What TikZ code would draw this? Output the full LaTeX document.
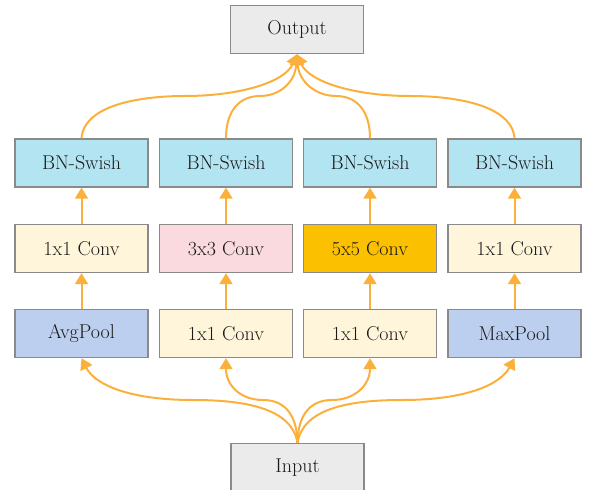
\documentclass[tikz,border=0pt]{standalone}
\usepackage{fontspec}
\usetikzlibrary{arrows.meta}
\definecolor{boxgray}{HTML}{EBEBEB}
\definecolor{edgegray}{HTML}{8A8A8A}
\definecolor{bnblue}{HTML}{B3E4F2}
\definecolor{cream}{HTML}{FFF5DA}
\definecolor{pinkc}{HTML}{FBDADF}
\definecolor{gold}{HTML}{FBC000}
\definecolor{poolblue}{HTML}{BCCFEE}
\definecolor{flow}{HTML}{FBB03B}
\definecolor{txt}{HTML}{1A1A1A}
\begin{document}
\begin{tikzpicture}[x=1pt,y=-1pt,
  blk/.style={draw=edgegray, line width=1.4pt, minimum width=133pt, minimum height=48pt, inner sep=0pt, text=txt, font=\fontsize{20}{23}\selectfont},
  arr/.style={draw=flow, line width=2pt, -{Triangle[width=13pt,length=11pt]}}]
\useasboundingbox (0,0) rectangle (590,490);
\clip (0,0) rectangle (590,490);
\node[blk, fill=boxgray] (out) at (297,29.5) {Output};
\node[blk, fill=boxgray] (in) at (297.5,467.5) {Input};
\node[blk, fill=bnblue] (b1) at (81.5,163) {BN-Swish};
\node[blk, fill=bnblue] (b2) at (226,163) {BN-Swish};
\node[blk, fill=bnblue] (b3) at (370,163) {BN-Swish};
\node[blk, fill=bnblue] (b4) at (514.5,163) {BN-Swish};
\node[blk, fill=cream] (m1) at (81.5,248.5) {1x1 Conv};
\node[blk, fill=pinkc] (m2) at (226,248.5) {3x3 Conv};
\node[blk, fill=gold] (m3) at (370,248.5) {5x5 Conv};
\node[blk, fill=cream] (m4) at (514.5,248.5) {1x1 Conv};
\node[blk, fill=poolblue] (p1) at (81.5,333.5) {AvgPool};
\node[blk, fill=cream] (p2) at (226,333.5) {1x1 Conv};
\node[blk, fill=cream] (p3) at (370,333.5) {1x1 Conv};
\node[blk, fill=poolblue] (p4) at (514.5,333.5) {MaxPool};
\foreach \c in {1,2,3,4}{
  \draw[arr] (p\c.north) -- (m\c.south);
  \draw[arr] (m\c.north) -- (b\c.south);
}
% bottom fan-out
\draw[arr] (in.north) .. controls (292,410) and (250,400) .. (193,400) .. controls (130,400) and (95,385) .. (p1.south);
\draw[arr] (in.north) .. controls (297,415) and (285,400) .. (263,400) .. controls (240,400) and (226,385) .. (p2.south);
\draw[arr] (in.north) .. controls (298,415) and (310,400) .. (332,400) .. controls (355,400) and (370,385) .. (p3.south);
\draw[arr] (in.north) .. controls (303,410) and (345,400) .. (402,400) .. controls (465,400) and (500,385) .. (p4.south);
% top fan-in
\draw[arr] (b1.north) .. controls (84,105) and (140,96) .. (185,96) .. controls (240,96) and (285,82) .. (out.south);
\draw[arr] (b2.north) .. controls (226,110) and (240,96) .. (260,96) .. controls (280,96) and (295,82) .. (out.south);
\draw[arr] (b3.north) .. controls (370,110) and (356,96) .. (336,96) .. controls (316,96) and (299,82) .. (out.south);
\draw[arr] (b4.north) .. controls (512,105) and (455,96) .. (410,96) .. controls (355,96) and (309,82) .. (out.south);
\end{tikzpicture}
\end{document}
